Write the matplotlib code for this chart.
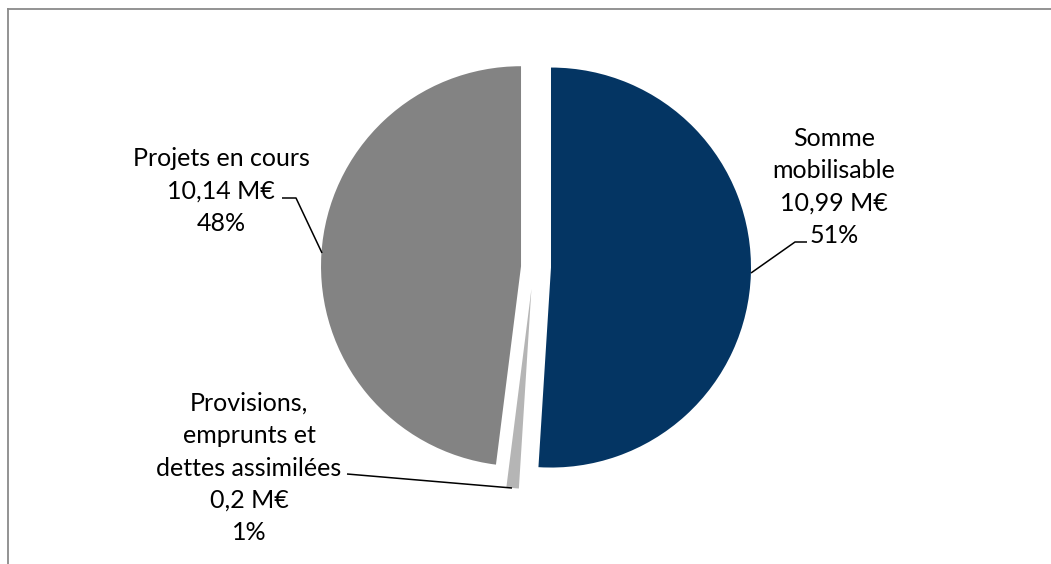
import matplotlib
matplotlib.use("Agg")
import matplotlib.pyplot as plt

# Data
categories = ["Somme\nmobilisable", "Provisions,\nemprunts et\ndettes assimilées", "Projets en cours"]
amounts = [10.99, 0.2, 10.14]           # M€ (shown in labels)
amount_labels = ["10,99 M€", "0,2 M€", "10,14 M€"]
pct_values = [51, 1, 48]                # slice sizes
pct_labels = ["51%", "1%", "48%"]
colors = ["#043563", "#B5B5B5", "#838383"]

W, H = 1051, 564
fig = plt.figure(figsize=(W / 100, H / 100), dpi=100)
ax = fig.add_axes([0, 0, 1, 1])

def Y(y):
    return H - y

cx, cy, R = 533.5, 267, 200
explode = [17.5, 22, 12.5]  # pixel offsets

ax.pie(pct_values, colors=colors, startangle=90, counterclock=False,
       center=(cx, Y(cy)), radius=R, explode=explode,
       wedgeprops=dict(linewidth=0))
ax.set_xlim(0, W)
ax.set_ylim(0, H)
ax.set_aspect('auto')
ax.axis('off')

plt.rcParams['font.family'] = ['Lato', 'DejaVu Sans']
fs = 18

label_pos = [(834, 187), (249, 468), (221, 191)]
for cat, am, pc, (lx, ly) in zip(categories, amount_labels, pct_labels, label_pos):
    ax.text(lx, Y(ly), f"{cat}\n{am}\n{pc}", ha='center', va='center',
            fontsize=fs, color='#000000', linespacing=1.5,
            family=['Lato', 'DejaVu Sans'])

# leader lines
leaders = [
    [(751, 273), (795, 242), (807, 242)],
    [(512, 488), (347, 474)],
    [(322, 253), (296, 198), (282, 198)],
]
for pts in leaders:
    ax.plot([p[0] for p in pts], [Y(p[1]) for p in pts], color='black', lw=1.1,
            solid_capstyle='butt')

# chart frame (top and left)
ax.plot([8, W], [Y(9), Y(9)], color='#8a8a8a', lw=1.3, clip_on=False)
ax.plot([8, 8], [Y(9), 0], color='#8a8a8a', lw=1.3, clip_on=False)

fig.savefig("out.png", dpi=100)
